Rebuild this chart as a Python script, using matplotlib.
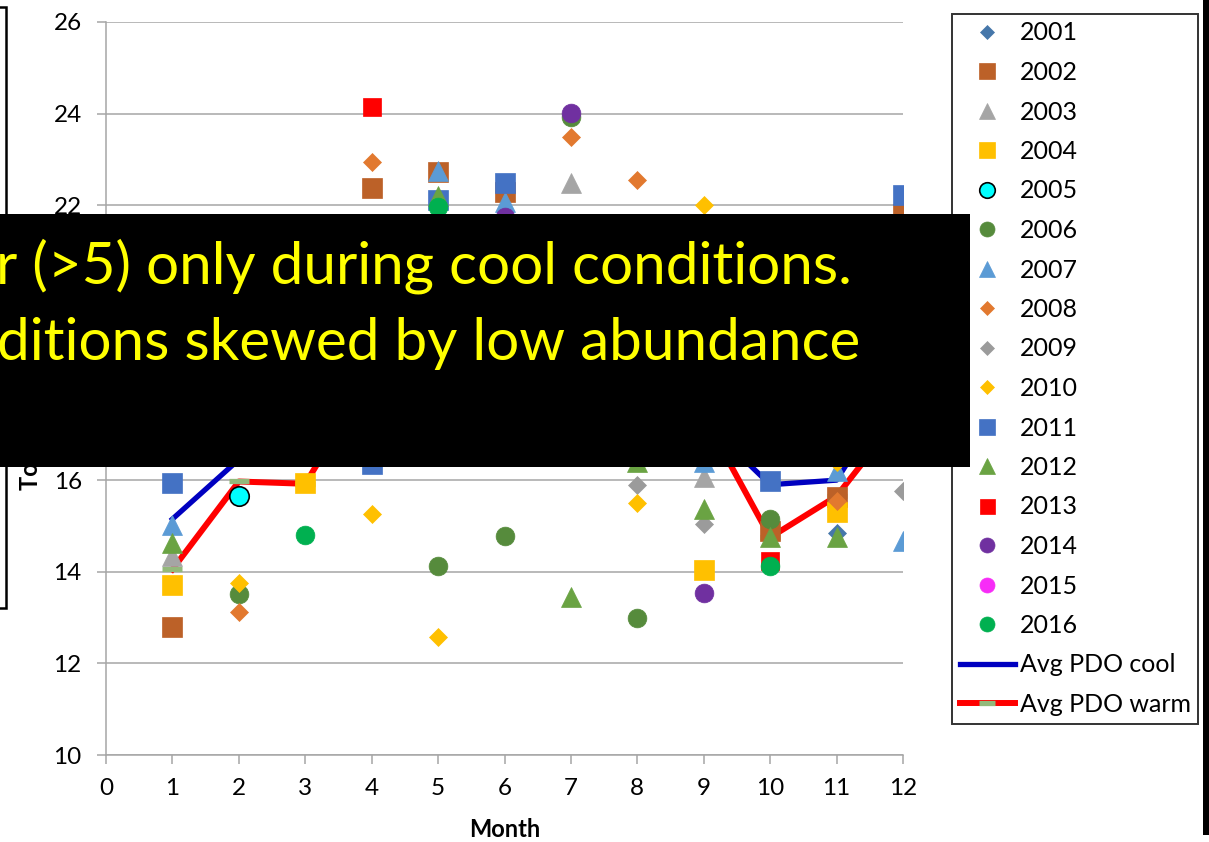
import numpy as np
import matplotlib.pyplot as plt
from matplotlib.patches import Rectangle

plt.rcParams['font.family'] = ['Lato', 'DejaVu Sans']

n = np.nan
months = list(range(1, 13))

# monthly values per year (nan = no sample)
y2001 = [n, n, n, n, n, n, n, n, n, n, 14.85, n]
y2002 = [12.8, n, n, 22.38, 22.72, 22.3, n, n, n, 14.89, 15.63, 21.8]
y2003 = [14.35, n, n, n, n, n, 22.48, n, 16.07, n, n, n]
y2004 = [13.7, n, 15.93, n, n, n, n, n, 14.04, n, 15.3, n]
y2005 = [n, 15.65, n, n, n, n, n, n, n, n, n, n]
y2006 = [n, 13.51, n, n, 14.12, 14.78, 23.93, 12.99, n, 15.15, n, n]
y2007 = [15.03, n, n, n, 22.75, 22.07, n, n, 16.4, n, 16.2, 14.67]
y2008 = [n, 13.12, n, 22.94, n, n, 23.49, 22.55, n, n, 15.55, n]
y2009 = [n, n, n, n, n, n, n, 15.89, 15.04, n, n, 15.76]
y2010 = [n, 13.75, n, 15.26, 12.57, n, n, 15.5, 22.0, n, 16.4, n]
y2011 = [15.93, n, n, 16.35, 22.11, 22.48, n, n, n, 15.98, n, 22.22]
y2012 = [14.62, n, n, n, 22.2, n, 13.45, 16.4, 15.37, 14.75, 14.75, n]
y2013 = [n, n, n, 24.14, n, n, n, n, n, 14.23, n, n]
y2014 = [n, n, n, n, n, 21.75, 24.02, n, 13.53, n, n, n]
y2015 = [n, n, n, n, n, n, n, n, n, n, n, n]
y2016 = [n, n, 14.8, n, 21.97, n, n, n, n, 14.12, n, n]

avg_cool = [15.15, 16.45, 17.5, 19.3, 20.4, 20.8, 21.0, 19.6, 17.3, 15.9, 16.0, 18.3]
avg_warm = [14.05, 15.97, 15.92, 18.3, 19.8, 20.3, 20.5, 19.0, 17.4, 14.75, 15.65, 17.5]

series = [
    ('2001', y2001, 'D', '#4677AA', 9.5),
    ('2002', y2002, 's', '#BC6128', 14),
    ('2003', y2003, '^', '#A5A5A5', 14),
    ('2004', y2004, 's', '#FFC000', 14),
    ('2005', y2005, 'o', '#00FFFF', 14),
    ('2006', y2006, 'o', '#568B3C', 13.5),
    ('2007', y2007, '^', '#5B9BD5', 14),
    ('2008', y2008, 'D', '#E2792F', 9.5),
    ('2009', y2009, 'D', '#9B9B9B', 9.5),
    ('2010', y2010, 'D', '#FFC000', 8.7),
    ('2011', y2011, 's', '#4472C4', 14),
    ('2012', y2012, '^', '#6AA343', 14),
    ('2013', y2013, 's', '#FF0000', 13.5),
    ('2014', y2014, 'o', '#7030A0', 13.5),
    ('2015', y2015, 'o', '#F72CF7', 13.5),
    ('2016', y2016, 'o', '#00B050', 13.5),
]

fig = plt.figure(figsize=(12.09, 8.42), dpi=100)
ax = fig.add_axes([106 / 1209, 1 - 755 / 842, 797 / 1209, 733 / 842])

handles = []
for i, (label, vals, mk, col, ms) in enumerate(series):
    edge = 'black' if label == '2005' else col
    h, = ax.plot(months, vals, linestyle='none', marker=mk, ms=ms, color=col,
                 mec=edge, mew=1.2 if label == '2005' else 0.5, zorder=3 + i * 0.01,
                 label=label)
    handles.append(h)

h_cool, = ax.plot(months, avg_cool, color='#0000C0', lw=3.8, zorder=2.5,
                  label='Avg PDO cool')
h_warm, = ax.plot(months, avg_warm, color='#FF0000', lw=4.3, marker='_', ms=14,
                  mew=3.8, mec='#93B97A', zorder=2.6, label='Avg PDO warm')
handles += [h_cool, h_warm]

ax.set_xlim(0, 12)
ax.set_ylim(10, 26)
ax.set_xticks(range(0, 13))
ax.set_yticks(range(10, 27, 2))
for s in ['top', 'right']:
    ax.spines[s].set_visible(False)
for s in ['left', 'bottom']:
    ax.spines[s].set_color('#A6A6A6')
    ax.spines[s].set_linewidth(1.1)
ax.grid(axis='y', color='#A6A6A6', lw=1.1)
ax.set_axisbelow(True)
ax.tick_params(axis='y', length=6.5, width=1.1, color='#A6A6A6', pad=11, labelsize=17.5)
ax.tick_params(axis='x', length=6.5, width=1.1, color='#A6A6A6', pad=10, labelsize=17.5)
ax.set_xlabel('Month', fontsize=17, fontweight='bold', labelpad=14)

fig.text(30 / 1209, 1 - 490 / 842, 'Total length (cm)', rotation=90, ha='center',
         va='bottom', fontsize=17, fontweight='bold')

leg = fig.legend(handles=handles, loc='upper left',
                 bbox_to_anchor=(952 / 1209, 1 - 14 / 842), bbox_transform=fig.transFigure,
                 fontsize=18, frameon=True, fancybox=False, edgecolor='black',
                 borderaxespad=0, borderpad=0.3, labelspacing=0.66, handlelength=2.2,
                 handletextpad=0.2, markerscale=0.8, numpoints=1)
leg.get_frame().set_linewidth(1.4)
leg.set_zorder(5)

# left frame edge and right bar
fig.add_artist(Rectangle((-20 / 1209, 1 - 608 / 842), 25.5 / 1209, 601 / 842,
                         transform=fig.transFigure, fill=False, edgecolor='black', lw=1.8))
fig.add_artist(Rectangle((1203 / 1209, 7 / 842), 6 / 1209, 835 / 842,
                         transform=fig.transFigure, facecolor='black', edgecolor='none'))

# caption box
fig.add_artist(Rectangle((0, 1 - 467 / 842), 970 / 1209, 253 / 842,
                         transform=fig.transFigure, facecolor='black', edgecolor='none',
                         zorder=10))
fig.text(-4 / 1209, 1 - 283 / 842, 'r (>5) only during cool conditions.', color='#FFFF00',
         fontsize=42, ha='left', va='baseline', zorder=11)
fig.text(-3 / 1209, 1 - 360 / 842, 'ditions skewed by low abundance', color='#FFFF00',
         fontsize=42, ha='left', va='baseline', zorder=11)

plt.savefig('out.png', dpi=100)
